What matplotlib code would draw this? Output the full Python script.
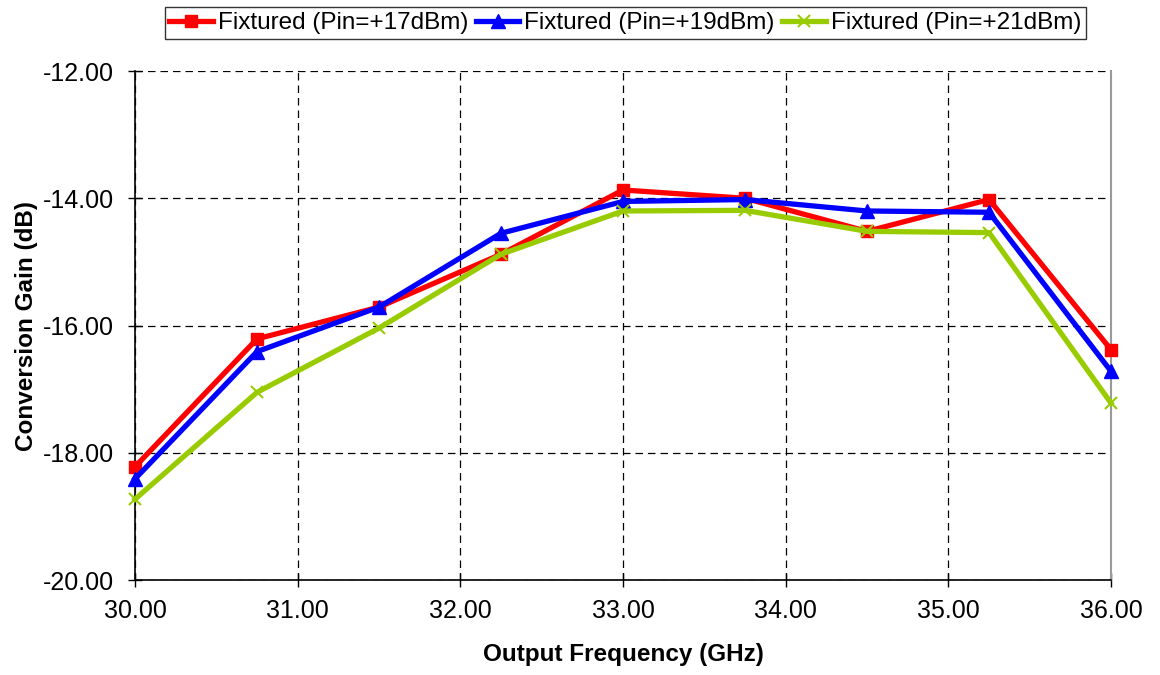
import matplotlib
matplotlib.use("Agg")
import matplotlib.pyplot as plt
from matplotlib.ticker import FormatStrFormatter, MultipleLocator

plt.rcParams['font.family'] = ['Liberation Sans', 'DejaVu Sans']

freq = [30.0, 30.75, 31.5, 32.25, 33.0, 33.75, 34.5, 35.25, 36.0]
gain_17 = [-18.22, -16.21, -15.71, -14.88, -13.87, -14.00, -14.52, -14.02, -16.38]
gain_19 = [-18.41, -16.41, -15.71, -14.55, -14.05, -14.02, -14.20, -14.22, -16.72]
gain_21 = [-18.73, -17.05, -16.04, -14.88, -14.20, -14.19, -14.52, -14.54, -17.22]
labels = ['Fixtured (Pin=+17dBm)', 'Fixtured (Pin=+19dBm)', 'Fixtured (Pin=+21dBm)']

fig = plt.figure(figsize=(11.6, 6.75), dpi=100)
ax = fig.add_axes([0.1164, 0.1407, 0.9578 - 0.1164, 0.8948 - 0.1407])

ax.plot(freq, gain_17, color='#FF0000', lw=3.8, marker='s', ms=9, label=labels[0], zorder=3, clip_on=False)
ax.plot(freq, gain_19, color='#0000FF', lw=3.8, marker='^', ms=10, label=labels[1], zorder=4, clip_on=False)
ax.plot(freq, gain_21, color='#99CC00', lw=3.8, marker='x', ms=9, mew=1.5, label=labels[2], zorder=5, clip_on=False)

ax.set_xlim(30, 36)
ax.set_ylim(-20, -12)
ax.xaxis.set_major_locator(MultipleLocator(1))
ax.yaxis.set_major_locator(MultipleLocator(2))
ax.xaxis.set_major_formatter(FormatStrFormatter('%.2f'))
ax.yaxis.set_major_formatter(FormatStrFormatter('%.2f'))
ax.tick_params(axis='both', direction='inout', length=10, width=1, labelsize=18)
ax.tick_params(axis='x', pad=9)
ax.tick_params(axis='y', pad=10)
ax.grid(True, color='black', linestyle=(0, (6, 4)), linewidth=0.9)
ax.set_axisbelow(True)

ax.spines['top'].set_visible(False)
ax.spines['right'].set_color('#999999')
ax.spines['right'].set_linewidth(1.5)
ax.spines['left'].set_linewidth(1.2)
ax.spines['bottom'].set_linewidth(1.2)

ax.set_xlabel('Output Frequency (GHz)', fontsize=17.5, fontweight='bold', labelpad=14)
ax.set_ylabel('Conversion Gain (dB)', fontsize=17.5, fontweight='bold', labelpad=4)

leg = fig.legend(loc='upper center', bbox_to_anchor=(0.539, 1.0), ncol=3, fontsize=17.5,
                 frameon=True, fancybox=False, edgecolor='black', handlelength=1.8,
                 handletextpad=0.2, columnspacing=0.3, borderpad=0.2, borderaxespad=0.3)
leg.get_frame().set_linewidth(1.0)

fig.savefig('out.png', dpi=100)
